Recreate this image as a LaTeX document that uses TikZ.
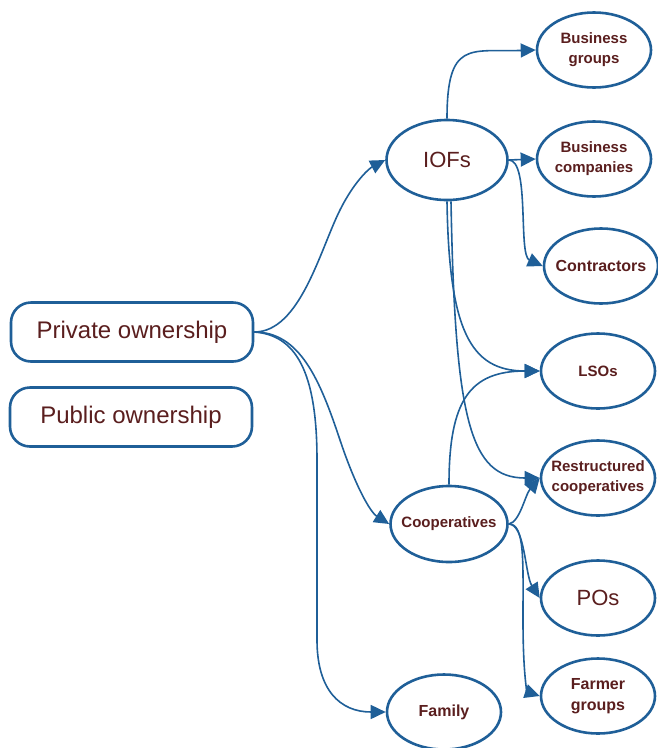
\documentclass[tikz,border=0pt]{standalone}
\usepackage{fontspec}
\setmainfont{Liberation Sans}
\usetikzlibrary{shapes.geometric,arrows.meta}
\definecolor{lineblue}{HTML}{1F5F98}
\definecolor{txtbrown}{HTML}{5A1E1E}
\tikzset{
  ell/.style={ellipse, draw=lineblue, line width=2.6pt, fill=white, inner ysep=0pt, inner xsep=-30pt,
    minimum width=114pt, minimum height=75pt, text=txtbrown, align=center,
    font=\bfseries\fontsize{15}{20}\selectfont},
  own/.style={rectangle, rounded corners=20pt, draw=lineblue, line width=2.6pt, fill=white,
    minimum width=242pt, minimum height=59pt, text=txtbrown,
    font=\fontsize{24}{28}\selectfont},
  conn/.style={draw=lineblue, line width=1.6pt, -{Triangle[length=15pt,width=14pt]}}
}
\begin{document}
\begin{tikzpicture}[x=1pt,y=-1pt]
\useasboundingbox (0,0) rectangle (657,748);
% nodes
\node[own] (priv) at (132,332) {Private ownership};
\node[own] (pub) at (131,417) {Public ownership};
\node[ell, minimum width=121pt, minimum height=80pt, font=\fontsize{22}{26}\selectfont] (iof) at (447,160) {IOFs};
\node[ell] (bg) at (594,50) {Business\\groups};
\node[ell] (bc) at (594,159) {Business\\companies};
\node[ell, font=\bfseries\fontsize{16}{20}\selectfont] (con) at (601,266) {Contractors};
\node[ell] (lso) at (598,371) {LSOs};
\node[ell] (rc) at (598,478) {Restructured\\cooperatives};
\node[ell, minimum width=117pt, minimum height=76pt] (coop) at (449,524) {Cooperatives};
\node[ell, font=\fontsize{22}{26}\selectfont] (pos) at (598,598) {POs};
\node[ell, font=\bfseries\fontsize{16}{21}\selectfont] (fg) at (598,696) {Farmer\\groups};
\node[ell, font=\bfseries\fontsize{16}{20}\selectfont] (fam) at (444,712) {Family};
% connectors
\draw[conn] (priv.east) .. controls (300,332) and (320,250) .. (340,210) .. controls (355,180) and (370,168) .. (iof.west);
\draw[conn] (priv.east) .. controls (300,332) and (320,380) .. (340,440) .. controls (355,485) and (370,512) .. (coop.west);
\draw[conn] (priv.east) .. controls (295,335) and (317,370) .. (317,460) -- (317,640) .. controls (317,690) and (340,712) .. (fam.west);
\draw[conn] (iof.north) .. controls (447,40) and (470,52) .. (bg.west);
\draw[conn] (iof.east) -- (bc.west);
\draw[conn] (iof.east) .. controls (530,160) and (518,255) .. (con.west);
\draw[conn] (iof.south) .. controls (449,330) and (470,371) .. (lso.west);
\draw[conn] (iof.south) ++(4,0) .. controls (455,420) and (470,478) .. (rc.west);
\draw[conn] (coop.north) .. controls (449,400) and (470,371) .. (lso.west);
\draw[conn] (coop.east) .. controls (520,522) and (525,495) .. (rc.west);
\draw[conn] (coop.east) .. controls (525,524) and (525,575) .. (pos.west);
\draw[conn] (coop.east) .. controls (525,524) and (523,560) .. (523,620) .. controls (523,680) and (528,692) .. (fg.west);
\end{tikzpicture}
\end{document}
